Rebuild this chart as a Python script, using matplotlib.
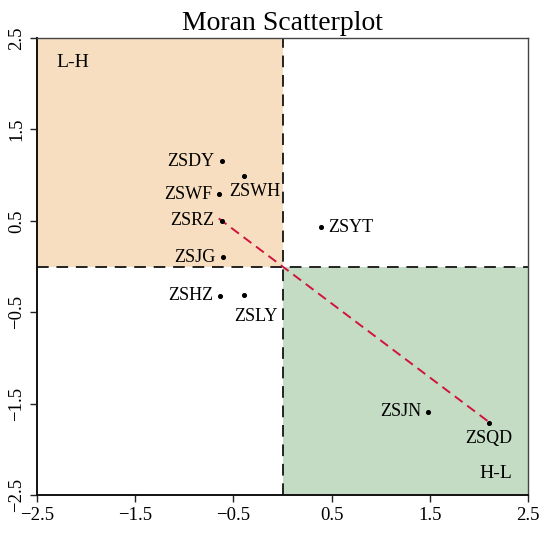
import matplotlib.pyplot as plt
import numpy as np

plt.rcParams['font.family'] = ['Liberation Serif', 'DejaVu Serif']

# data
names = ['ZSDY', 'ZSWH', 'ZSWF', 'ZSRZ', 'ZSJG', 'ZSYT', 'ZSHZ', 'ZSLY', 'ZSJN', 'ZSQD']
x_vals = [-0.62, -0.39, -0.65, -0.62, -0.61, 0.39, -0.64, -0.39, 1.48, 2.10]
y_vals = [1.15, 0.99, 0.79, 0.50, 0.10, 0.43, -0.32, -0.31, -1.59, -1.71]
label_pos = ['left', 'below', 'left', 'left', 'left', 'right', 'left', 'below', 'left', 'below']
moran_slope = -0.81
ticks = [-2.5, -1.5, -0.5, 0.5, 1.5, 2.5]

# small nudges of the labels (data units)
nudge_x = {'ZSWH': 0.11, 'ZSLY': 0.12}
nudge_y = {'ZSLY': -0.06}

fig = plt.figure(figsize=(5.5, 5.35), dpi=100)
ax = fig.add_axes([0.0673, 0.0748, 0.893, 0.854])
ax.set_xlim(-2.5, 2.5)
ax.set_ylim(-2.5, 2.5)

# quadrants
ax.add_patch(plt.Rectangle((-2.5, 0), 2.5, 2.5, facecolor='#F8DEC0', edgecolor='none', zorder=0))
ax.add_patch(plt.Rectangle((0, -2.5), 2.5, 2.5, facecolor='#C4DCC4', edgecolor='none', zorder=0))
ax.axhline(0, color='#222222', lw=1.4, ls=(0, (6, 4)), zorder=1)
ax.axvline(0, color='#222222', lw=1.4, ls=(0, (6, 4)), zorder=1)

ax.text(-2.3, 2.23, 'L-H', fontsize=14, ha='left', va='center')
ax.text(2.34, -2.26, 'H-L', fontsize=14, ha='right', va='center')

# regression line
xs = np.array([min(x_vals), max(x_vals)])
ax.plot(xs, moran_slope * xs, color='#D0143C', lw=1.4, ls=(0, (5, 3)), zorder=2)

ax.scatter(x_vals, y_vals, s=7, color='black', zorder=3)
for n, xv, yv, p in zip(names, x_vals, y_vals, label_pos):
    xv = xv + nudge_x.get(n, 0)
    yv = yv + nudge_y.get(n, 0)
    if p == 'left':
        ax.text(xv - 0.07, yv, n, fontsize=13, ha='right', va='center')
    elif p == 'right':
        ax.text(xv + 0.07, yv, n, fontsize=13, ha='left', va='center')
    else:
        ax.text(xv, yv - 0.08, n, fontsize=13, ha='center', va='top')

ax.set_title('Moran Scatterplot', fontsize=20, pad=6)
ax.set_xticks(ticks)
ax.set_yticks(ticks)
ax.tick_params(labelsize=13.5, length=5, width=1, direction='out', color='#222222')
for lab in ax.get_yticklabels():
    lab.set_rotation(90)
    lab.set_va('center')
for s in ['left', 'bottom']:
    ax.spines[s].set_linewidth(1.4)
    ax.spines[s].set_color('#111111')
for s in ['top', 'right']:
    ax.spines[s].set_linewidth(1.0)
    ax.spines[s].set_color('#444444')

fig.savefig('out.png', dpi=100)
